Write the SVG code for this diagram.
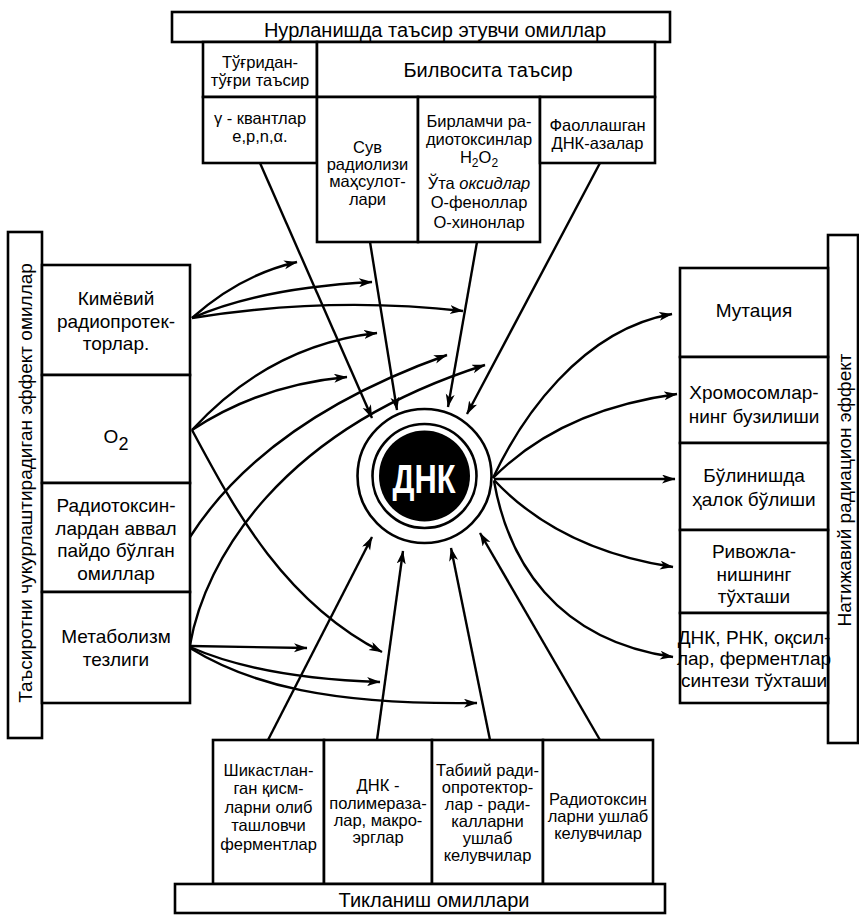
<svg xmlns="http://www.w3.org/2000/svg" width="859" height="917" viewBox="0 0 859 917">
  <defs>
    <marker id="arrow" markerUnits="userSpaceOnUse" markerWidth="16" markerHeight="12" refX="13" refY="4.5" orient="auto">
      <path d="M0,0 L13.5,4.5 L0,9 L3.5,4.5 Z" fill="#000"/>
    </marker>
    <style>
      .box { fill: #fff; stroke: #000; stroke-width: 2.6; }
      .t { font-family: "Liberation Sans", Arial, sans-serif; font-size: 19px; text-anchor: middle; fill: #000; }
      .s { font-size: 16.5px; }
      .h { font-size: 20px; }
      .c { fill: none; stroke: #000; stroke-width: 2.4; marker-end: url(#arrow); }
    </style>
  </defs>
  <rect width="859" height="917" fill="#fff"/>

  <!-- connectors -->
  <g id="connectors">
    <!-- top: radiation factors to DNA -->
    <path class="c" d="M260,163 L372,418"/>
    <path class="c" d="M370,242 L397,410"/>
    <path class="c" d="M477,242 L448,407"/>
    <path class="c" d="M600,163 L467,414"/>
    <!-- left: chemical radioprotectors -->
    <path class="c" d="M192,318 Q240,275 297,262"/>
    <path class="c" d="M192,318 Q260,288 372,282"/>
    <path class="c" d="M192,318 Q330,296 463,311"/>
    <!-- left: oxygen -->
    <path class="c" d="M192,430 Q270,345 377,333"/>
    <path class="c" d="M192,430 Q260,385 347,377"/>
    <path class="c" d="M192,430 C230,500 280,600 382,652"/>
    <!-- left: pre-formed factors -->
    <path class="c" d="M190,537 Q265,420 447,355"/>
    <!-- left: metabolism rate -->
    <path class="c" d="M190,645 C205,560 280,430 485,365"/>
    <path class="c" d="M190,646 L307,648"/>
    <path class="c" d="M190,647 Q260,678 380,682"/>
    <path class="c" d="M190,648 C250,685 330,705 477,703"/>
    <!-- right: effects -->
    <path class="c" d="M493,478 C520,420 580,330 672,314"/>
    <path class="c" d="M493,478 Q560,410 677,394"/>
    <path class="c" d="M494,479 L675,479"/>
    <path class="c" d="M494,480 Q560,550 673,567"/>
    <path class="c" d="M494,481 C508,560 555,640 673,657"/>
    <!-- bottom: repair factors -->
    <path class="c" d="M268,740 L372,537"/>
    <path class="c" d="M377,740 L403,551"/>
    <path class="c" d="M490,740 L451,548"/>
    <path class="c" d="M600,740 L480,533"/>
  </g>

  <!-- DNA core -->
  <g id="dna">
    <circle cx="424.5" cy="476" r="67" fill="#fff" stroke="#000" stroke-width="2.6"/>
    <circle cx="424.5" cy="476" r="52" fill="#fff" stroke="#000" stroke-width="2.6"/>
    <circle cx="424.5" cy="476" r="45.5" fill="#000"/>
    <text x="424" y="493" font-family="Liberation Sans, Arial, sans-serif" font-weight="bold" font-size="41" fill="#fff" text-anchor="middle" textLength="63" lengthAdjust="spacingAndGlyphs">ДНК</text>
  </g>

  <!-- top block -->
  <g id="top-header">
    <rect class="box" x="172" y="12" width="498" height="30"/>
    <text class="t h" x="435" y="37">Нурланишда таъсир этувчи омиллар</text>
  </g>
  <g id="direct">
    <rect class="box" x="203" y="42" width="114" height="55"/>
    <text class="t s" x="260" y="68">Тўғридан-</text>
    <text class="t s" x="260" y="86">тўғри таъсир</text>
  </g>
  <g id="indirect">
    <rect class="box" x="317" y="42" width="338" height="55"/>
    <text class="t h" x="488" y="77">Билвосита таъсир</text>
  </g>
  <g id="quanta">
    <rect class="box" x="203" y="97" width="114" height="66"/>
    <text class="t s" x="260" y="124">γ - квантлар</text>
    <text class="t s" x="260" y="142">e,p,n,α.</text>
  </g>
  <g id="radiolysis">
    <rect class="box" x="317" y="97" width="101" height="145"/>
    <text class="t s" x="367.5" y="153">Сув</text>
    <text class="t s" x="367.5" y="170">радиолизи</text>
    <text class="t s" x="367.5" y="187">маҳсулот-</text>
    <text class="t s" x="367.5" y="205">лари</text>
  </g>
  <g id="radiotoxins">
    <rect class="box" x="418" y="97" width="122" height="145"/>
    <text class="t s" x="479" y="127">Бирламчи ра-</text>
    <text class="t s" x="479" y="145">диотоксинлар</text>
    <text class="t s" x="479" y="163">H<tspan font-size="12" dy="4">2</tspan><tspan dy="-4">O</tspan><tspan font-size="12" dy="4">2</tspan></text>
    <text class="t s" x="479" y="189">Ўта <tspan font-style="italic">оксидлар</tspan></text>
    <text class="t s" x="479" y="208">О-феноллар</text>
    <text class="t s" x="479" y="228">О-хинонлар</text>
  </g>
  <g id="dnases">
    <rect class="box" x="540" y="97" width="115" height="66"/>
    <text class="t s" x="597.5" y="131">Фаоллашган</text>
    <text class="t s" x="597.5" y="149">ДНК-азалар</text>
  </g>

  <!-- left block -->
  <g id="left-header">
    <rect class="box" x="8" y="232" width="34" height="506"/>
    <text class="t" x="32" y="483" font-size="19.5" transform="rotate(-90 32 483)">Таъсиротни чукурлаштирадиган эффект омиллар</text>
  </g>
  <g id="protectors">
    <rect class="box" x="42" y="265" width="148" height="110"/>
    <text class="t" x="116" y="305">Кимёвий</text>
    <text class="t" x="116" y="328">радиопротек-</text>
    <text class="t" x="116" y="350">торлар.</text>
  </g>
  <g id="oxygen">
    <rect class="box" x="42" y="375" width="148" height="108"/>
    <text class="t" x="116" y="443" font-size="28">O<tspan font-size="18" dy="7">2</tspan></text>
  </g>
  <g id="preformed">
    <rect class="box" x="42" y="483" width="148" height="109"/>
    <text class="t" x="116" y="512">Радиотоксин-</text>
    <text class="t" x="116" y="535">лардан аввал</text>
    <text class="t" x="116" y="557">пайдо бўлган</text>
    <text class="t" x="116" y="580">омиллар</text>
  </g>
  <g id="metabolism">
    <rect class="box" x="42" y="592" width="148" height="111"/>
    <text class="t" x="116" y="643">Метаболизм</text>
    <text class="t" x="116" y="666">тезлиги</text>
  </g>

  <!-- right block -->
  <g id="right-header">
    <rect class="box" x="828" y="235" width="30" height="508"/>
    <text class="t" x="851" y="490" font-size="19.5" transform="rotate(-90 851 490)">Натижавий радиацион эффект</text>
  </g>
  <g id="mutation">
    <rect class="box" x="680" y="268" width="148" height="89"/>
    <text class="t" x="754" y="317">Мутация</text>
  </g>
  <g id="chromosomes">
    <rect class="box" x="680" y="357" width="148" height="86"/>
    <text class="t" x="754" y="399">Хромосомлар-</text>
    <text class="t" x="754" y="423">нинг бузилиши</text>
  </g>
  <g id="division">
    <rect class="box" x="680" y="443" width="148" height="87"/>
    <text class="t" x="754" y="482">Бўлинишда</text>
    <text class="t" x="754" y="506">ҳалок бўлиши</text>
  </g>
  <g id="development">
    <rect class="box" x="680" y="530" width="148" height="83"/>
    <text class="t" x="754" y="558">Ривожла-</text>
    <text class="t" x="754" y="581">нишнинг</text>
    <text class="t" x="754" y="603">тўхташи</text>
  </g>
  <g id="synthesis">
    <rect class="box" x="680" y="613" width="148" height="90"/>
    <text class="t" x="754" y="644" font-size="17">ДНК, РНК, оқсил-</text>
    <text class="t" x="754" y="665" font-size="17">лар, ферментлар</text>
    <text class="t" x="754" y="687" font-size="17">синтези тўхташи</text>
  </g>

  <!-- bottom block -->
  <g id="excision">
    <rect class="box" x="213" y="740" width="111" height="144"/>
    <text class="t s" x="268.5" y="776">Шикастлан-</text>
    <text class="t s" x="268.5" y="794">ган қисм-</text>
    <text class="t s" x="268.5" y="813">ларни олиб</text>
    <text class="t s" x="268.5" y="831">ташловчи</text>
    <text class="t s" x="268.5" y="850">ферментлар</text>
  </g>
  <g id="polymerases">
    <rect class="box" x="324" y="740" width="108" height="144"/>
    <text class="t s" x="378" y="791">ДНК -</text>
    <text class="t s" x="378" y="809">полимераза-</text>
    <text class="t s" x="378" y="826">лар, макро-</text>
    <text class="t s" x="378" y="843">эрглар</text>
  </g>
  <g id="scavengers">
    <rect class="box" x="432" y="740" width="111" height="144"/>
    <text class="t s" x="487.5" y="776">Табиий ради-</text>
    <text class="t s" x="487.5" y="793">опротектор-</text>
    <text class="t s" x="487.5" y="810">лар - ради-</text>
    <text class="t s" x="487.5" y="827">калларни</text>
    <text class="t s" x="487.5" y="844">ушлаб</text>
    <text class="t s" x="487.5" y="861">келувчилар</text>
  </g>
  <g id="toxin-traps">
    <rect class="box" x="543" y="740" width="110" height="144"/>
    <text class="t s" x="598" y="805">Радиотоксин</text>
    <text class="t s" x="598" y="822">ларни ушлаб</text>
    <text class="t s" x="598" y="839">келувчилар</text>
  </g>
  <g id="bottom-header">
    <rect class="box" x="175" y="884" width="490" height="29"/>
    <text class="t h" x="434" y="907">Тикланиш омиллари</text>
  </g>
</svg>
